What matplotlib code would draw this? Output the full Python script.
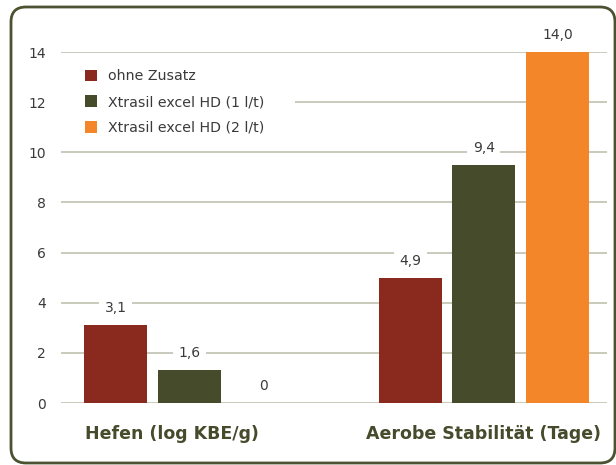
import numpy as np
import matplotlib
matplotlib.use("Agg")
import matplotlib.pyplot as plt
import matplotlib.patches as mpatches

categories = ["Hefen (log KBE/g)", "Aerobe Stabilität (Tage)"]
series = ["ohne Zusatz", "Xtrasil excel HD (1 l/t)", "Xtrasil excel HD (2 l/t)"]
# bar heights as drawn in the picture
ohne = [3.1, 5.0]
hd1 = [1.3, 9.5]
hd2 = [0.0, 14.0]
# value labels as printed
labels_ohne = ["3,1", "4,9"]
labels_hd1 = ["1,6", "9,4"]
labels_hd2 = ["0", "14,0"]
yticks = [0, 2, 4, 6, 8, 10, 12, 14]

colors = ["#8a291d", "#454b2b", "#f4862a"]
text_col = "#3a3a3a"
cat_col = "#454b2b"

plt.rcParams["font.family"] = ["DejaVu Sans"]

fig = plt.figure(figsize=(6.16, 4.65), dpi=100)
ax = fig.add_axes([61 / 616, 62 / 465, 546 / 616, 351 / 465])

# rounded frame around the chart
frame = mpatches.FancyBboxPatch((11, 2), 604, 456,
                                boxstyle="round,pad=0,rounding_size=15",
                                transform=None, fill=False,
                                edgecolor="#4b5232", linewidth=2.0, zorder=0)
fig.patches.append(frame)

x = np.arange(len(categories))
w = 0.214
step = 0.25
data = [ohne, hd1, hd2]
labs = [labels_ohne, labels_hd1, labels_hd2]
for i, (vals, lab) in enumerate(zip(data, labs)):
    pos = x + (i - 1) * step
    ax.bar(pos, vals, width=w, color=colors[i], label=series[i], zorder=3)
    for p, v, t in zip(pos, vals, lab):
        ax.text(p, v + 0.68, t, ha="center", va="center", fontsize=10,
                color=text_col, zorder=4,
                bbox=dict(facecolor="white", edgecolor="none", pad=4))

ax.set_xlim(-0.436, 1.418)
ax.set_ylim(0, 14)
ax.set_yticks(yticks)
ax.set_yticklabels([str(t) for t in yticks], fontsize=10, color=text_col)
ax.tick_params(axis="y", length=0, pad=11)
ax.set_xticks([x[0] - 0.06, x[1]])
ax.set_xticklabels(categories, fontsize=12.5, fontweight="bold", color=cat_col)
ax.tick_params(axis="x", length=0, pad=16)
ax.grid(axis="y", color="#c9c9bc", linewidth=1.4, zorder=0)
ax.set_axisbelow(True)
for s in ax.spines.values():
    s.set_visible(False)

# white area behind the legend that hides the gridline
ax.add_patch(mpatches.Rectangle((0, 0.749), 0.4286, 0.228, transform=ax.transAxes,
                                facecolor="white", edgecolor="none", zorder=1))

leg = ax.legend(loc="upper left", bbox_to_anchor=(0.0256, 0.979), frameon=False,
                fontsize=10.2, handlelength=0.85, handleheight=0.85,
                handletextpad=0.8, labelspacing=0.83, borderpad=0.7,
                borderaxespad=0)
for t in leg.get_texts():
    t.set_color(text_col)

fig.savefig("out.png", dpi=100)
